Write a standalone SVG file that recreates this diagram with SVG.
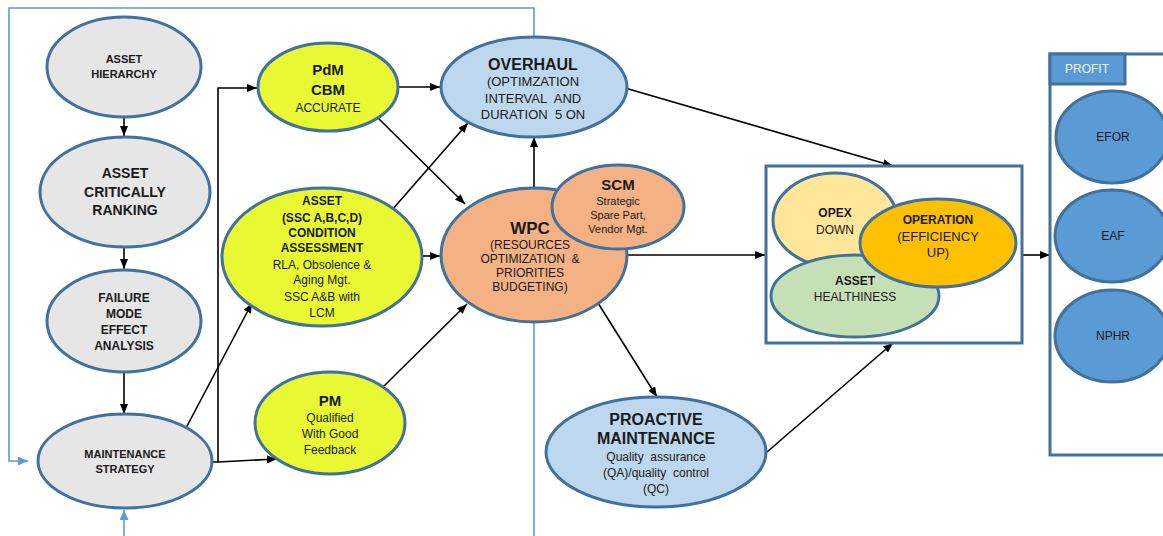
<svg xmlns="http://www.w3.org/2000/svg" width="1163" height="536" viewBox="0 0 1163 536">
<style>
text{font-family:"Liberation Sans",Arial,sans-serif;text-anchor:middle;fill:#1a1a1a}
.b{font-weight:bold}
.n{stroke:#41719c;stroke-width:3}
.gray{fill:#e6e6e6}
.yel{fill:#e8f934}
.lb{fill:#bdd7ee}
.sal{fill:#f4b183}
.pb{fill:#5b9bd5}
.c{stroke:#000;stroke-width:1.6;fill:none}
.fb{stroke:#5b9bd5;stroke-width:1.6;fill:none}
</style>
<defs>
<marker id="a" markerWidth="10" markerHeight="8" refX="10" refY="4" orient="auto" markerUnits="userSpaceOnUse"><path d="M0,0L10,4L0,8Z" fill="#000"/></marker>
<marker id="ab" markerWidth="10" markerHeight="9" refX="10" refY="4.5" orient="auto" markerUnits="userSpaceOnUse"><path d="M0,0L10,4.5L0,9Z" fill="#5b9bd5"/></marker>
</defs>
<rect width="1163" height="536" fill="#fff"/>
<g id="connectors">
<path class="fb" d="M534,37V8H9V461H28" marker-end="url(#ab)"/>
<path class="fb" d="M534,322V536"/>
<path class="fb" d="M124,536V510" marker-end="url(#ab)"/>
<path class="c" d="M124,117V136" marker-end="url(#a)"/>
<path class="c" d="M124,247V269" marker-end="url(#a)"/>
<path class="c" d="M124,373V414" marker-end="url(#a)"/>
<path class="c" d="M212,462H218V88H257" marker-end="url(#a)"/>
<path class="c" d="M218,462L277,459" marker-end="url(#a)"/>
<path class="c" d="M186,428L252,303" marker-end="url(#a)"/>
<path class="c" d="M398,87H440" marker-end="url(#a)"/>
<path class="c" d="M378,118L465,204" marker-end="url(#a)"/>
<path class="c" d="M392,210L468,123" marker-end="url(#a)"/>
<path class="c" d="M422,256H440" marker-end="url(#a)"/>
<path class="c" d="M383,387L467,304" marker-end="url(#a)"/>
<path class="c" d="M534,188V137" marker-end="url(#a)"/>
<path class="c" d="M625,88L893,166" marker-end="url(#a)"/>
<path class="c" d="M628,255H765" marker-end="url(#a)"/>
<path class="c" d="M598,303L657,397" marker-end="url(#a)"/>
<path class="c" d="M767,452L893,343" marker-end="url(#a)"/>
<path class="c" d="M1022,255H1050" marker-end="url(#a)"/>
</g>
<g id="asset-hierarchy">
<ellipse class="n gray" cx="124" cy="67" rx="77" ry="50"/>
<text class="b" font-size="11"><tspan x="124" y="63">ASSET</tspan><tspan x="124" y="78">HIERARCHY</tspan></text>
</g>
<g id="asset-ranking">
<ellipse class="n gray" cx="125" cy="192" rx="85" ry="55"/>
<text class="b" font-size="14"><tspan x="125" y="178">ASSET</tspan><tspan x="125" y="197">CRITICALLY</tspan><tspan x="125" y="215">RANKING</tspan></text>
</g>
<g id="fmea">
<ellipse class="n gray" cx="124" cy="321" rx="77" ry="51"/>
<text class="b" font-size="12"><tspan x="124" y="302">FAILURE</tspan><tspan x="124" y="318">MODE</tspan><tspan x="124" y="334">EFFECT</tspan><tspan x="124" y="350">ANALYSIS</tspan></text>
</g>
<g id="maintenance-strategy">
<ellipse class="n gray" cx="125" cy="461" rx="87" ry="47"/>
<text class="b" font-size="11"><tspan x="125" y="458">MAINTENANCE</tspan><tspan x="125" y="473">STRATEGY</tspan></text>
</g>
<g id="pdm">
<ellipse class="n yel" cx="328" cy="87" rx="70" ry="44"/>
<text font-size="15" class="b"><tspan x="328" y="75">PdM</tspan><tspan x="328" y="95">CBM</tspan></text>
<text font-size="12" x="328" y="112">ACCURATE</text>
</g>
<g id="asset-condition">
<ellipse class="n yel" cx="322" cy="257" rx="100" ry="69"/>
<text font-size="12" class="b"><tspan x="322" y="205">ASSET</tspan><tspan x="322" y="222">(SSC A,B,C,D)</tspan><tspan x="322" y="237">CONDITION</tspan><tspan x="322" y="252">ASSESSMENT</tspan></text>
<text font-size="12"><tspan x="322" y="269">RLA, Obsolence &amp;</tspan><tspan x="322" y="284">Aging Mgt.</tspan><tspan x="322" y="301">SSC A&amp;B with</tspan><tspan x="322" y="317">LCM</tspan></text>
</g>
<g id="pm">
<ellipse class="n yel" cx="330" cy="423" rx="75" ry="51"/>
<text font-size="15" class="b" x="330" y="406">PM</text>
<text font-size="12"><tspan x="330" y="422">Qualified</tspan><tspan x="330" y="438">With Good</tspan><tspan x="330" y="454">Feedback</tspan></text>
</g>
<g id="overhaul">
<ellipse class="n lb" cx="534" cy="87" rx="93" ry="50"/>
<text font-size="16" class="b" x="533" y="70">OVERHAUL</text>
<text font-size="13"><tspan x="533" y="86">(OPTIMZATION</tspan><tspan x="533" y="103">INTERVAL&#160; AND</tspan><tspan x="533" y="119">DURATION&#160; 5 ON</tspan></text>
</g>
<g id="wpc">
<ellipse class="n sal" cx="534" cy="255" rx="93" ry="67"/>
<text font-size="17" class="b" x="530" y="234">WPC</text>
<text font-size="12"><tspan x="530" y="249">(RESOURCES</tspan><tspan x="530" y="263">OPTIMIZATION&#160; &amp;</tspan><tspan x="530" y="277">PRIORITIES</tspan><tspan x="530" y="291">BUDGETING)</tspan></text>
</g>
<g id="scm">
<ellipse class="n sal" cx="618" cy="207" rx="66" ry="42"/>
<text font-size="15" class="b" x="618" y="190">SCM</text>
<text font-size="11"><tspan x="618" y="205">Strategic</tspan><tspan x="618" y="219">Spare Part,</tspan><tspan x="618" y="233">Vendor Mgt.</tspan></text>
</g>
<g id="proactive">
<ellipse class="n lb" cx="656" cy="452" rx="110" ry="55"/>
<text font-size="16" class="b"><tspan x="656" y="425">PROACTIVE</tspan><tspan x="656" y="444">MAINTENANCE</tspan></text>
<text font-size="12"><tspan x="656" y="461">Quality&#160; assurance</tspan><tspan x="656" y="477">(QA)/quality&#160; control</tspan><tspan x="656" y="493">(QC)</tspan></text>
</g>
<g id="outcome-box">
<rect x="766" y="166" width="256" height="177" fill="#fff" stroke="#41719c" stroke-width="3"/>
</g>
<g id="opex">
<ellipse class="n" fill="#ffe699" cx="835" cy="220" rx="62" ry="47"/>
<text font-size="12"><tspan class="b" x="835" y="217">OPEX</tspan><tspan x="835" y="234">DOWN</tspan></text>
</g>
<g id="asset-healthiness">
<ellipse class="n" fill="#c5e0b4" cx="855" cy="296" rx="84" ry="41"/>
<text font-size="12"><tspan class="b" x="855" y="285">ASSET</tspan><tspan x="855" y="301">HEALTHINESS</tspan></text>
</g>
<g id="operation">
<ellipse class="n" fill="#ffc000" cx="938" cy="243" rx="78" ry="44"/>
<text font-size="12" class="b" x="938" y="224">OPERATION</text>
<text font-size="13"><tspan x="938" y="241">(EFFICIENCY</tspan><tspan x="938" y="257">UP)</tspan></text>
</g>
<g id="profit">
<rect x="1050" y="54" width="130" height="401" fill="#fff" stroke="#41719c" stroke-width="3"/>
<rect x="1050" y="54" width="75" height="30" class="pb" stroke="#41719c" stroke-width="3"/>
<text font-size="12" x="1087" y="73" style="fill:#eef4fb">PROFIT</text>
</g>
<g id="efor">
<ellipse class="n pb" cx="1112" cy="137" rx="56" ry="46"/>
<text font-size="12" x="1113" y="141">EFOR</text>
</g>
<g id="eaf">
<ellipse class="n pb" cx="1112" cy="236" rx="57" ry="46"/>
<text font-size="12" x="1113" y="240">EAF</text>
</g>
<g id="nphr">
<ellipse class="n pb" cx="1112" cy="336" rx="57" ry="46"/>
<text font-size="12" x="1113" y="340">NPHR</text>
</g>
</svg>
